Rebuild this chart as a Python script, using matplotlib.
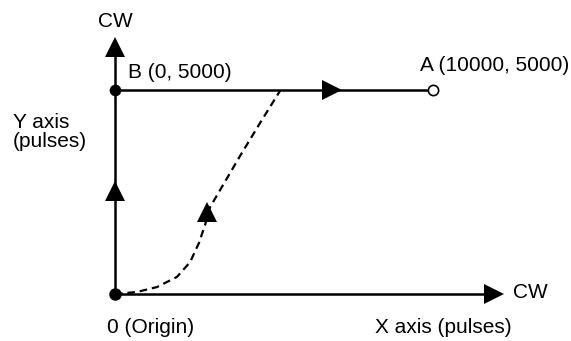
import matplotlib
matplotlib.use("Agg")
import matplotlib.pyplot as plt

plt.rcParams['font.family'] = ['Liberation Sans', 'DejaVu Sans']

# ---- data ----
origin = (0, 0)
point_b = (0, 5000)
point_a = (10000, 5000)
curve_x = [0, 690, 1320, 1950, 2360, 2640, 2830, 2990, 3930, 4560, 5190]
curve_y = [0, 50, 170, 420, 780, 1250, 1690, 2130, 3380, 4190, 4980]

labels = {
    'cw_y': 'CW',
    'cw_x': 'CW',
    'b': 'B (0, 5000)',
    'a': 'A (10000, 5000)',
    'origin': '0 (Origin)',
    'xaxis': 'X axis (pulses)',
    'yaxis1': 'Y axis',
    'yaxis2': '(pulses)',
}

# ---- layout (pixel mapping) ----
W, H = 571, 341
OX, OY = 115, 294          # origin pixel
SX = 318 / 10000           # px per data unit x
SY = 204 / 5000            # px per data unit y

def dx(px):
    return (px - OX) / SX

def dy(py):
    return (OY - py) / SY

fig = plt.figure(figsize=(W / 100, H / 100), dpi=100)
ax = fig.add_axes([0, 0, 1, 1])
ax.set_xlim(dx(0), dx(W))
ax.set_ylim(dy(H), dy(0))
ax.axis('off')

lw = 1.8
k = 'black'

# axes lines
ax.plot([origin[0], dx(490)], [origin[1], origin[1]], color=k, lw=lw, solid_capstyle='butt')
ax.plot([origin[0], origin[0]], [origin[1], dy(50)], color=k, lw=lw, solid_capstyle='butt')
# B -> A line
ax.plot([point_b[0], point_a[0]], [point_b[1], point_a[1]], color=k, lw=lw, zorder=2)

# dashed curve
ax.plot(curve_x, curve_y, color=k, lw=1.6, dashes=(3.4, 2.2), zorder=2)

# arrowheads (markers, size in points: 20px = 14.4pt)
ms = 14.6
ax.plot([origin[0]], [dy(47)], marker='^', ms=ms, color=k, mew=0, zorder=3)
ax.plot([origin[0]], [dy(191)], marker='^', ms=ms, color=k, mew=0, zorder=3)
ax.plot([dx(494)], [origin[1]], marker='>', ms=ms, color=k, mew=0, zorder=3)
ax.plot([dx(332.5)], [point_b[1]], marker='>', ms=ms, color=k, mew=0, zorder=3)
ax.plot([dx(207)], [dy(212)], marker='^', ms=ms, color=k, mew=0, zorder=3)

# points
ax.plot([origin[0]], [origin[1]], marker='o', ms=9.0, color=k, mew=0, zorder=4)
ax.plot([point_b[0]], [point_b[1]], marker='o', ms=8.4, color=k, mew=0, zorder=4)
ax.plot([point_a[0]], [point_a[1]], marker='o', ms=7.4, mfc='white', mec=k, mew=1.2, zorder=4)

fs = 15
def txt(px, py, s, ha='left'):
    ax.text(dx(px), dy(py), s, fontsize=fs, ha=ha, va='baseline', color=k)

txt(98, 27, labels['cw_y'])
txt(128, 78, labels['b'])
txt(420, 71, labels['a'])
txt(13, 128, labels['yaxis1'])
txt(13, 147, labels['yaxis2'])
txt(513, 298, labels['cw_x'])
txt(375, 333, labels['xaxis'])
txt(107, 333, labels['origin'])

fig.savefig('out.png', dpi=100)
